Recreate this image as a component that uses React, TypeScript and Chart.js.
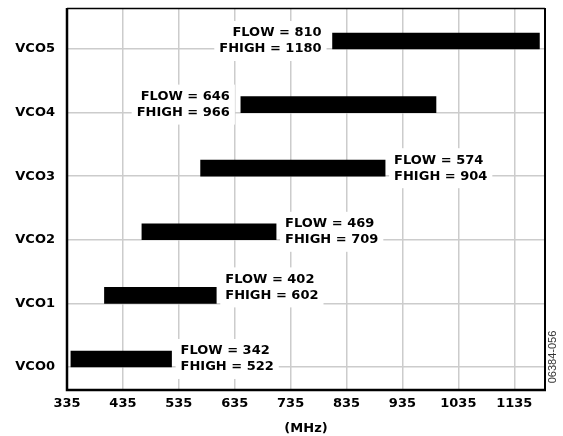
import React, { useEffect, useRef } from "react";
import { Chart, registerables } from "chart.js";

Chart.register(...registerables);

const categories = ["VCO0", "VCO1", "VCO2", "VCO3", "VCO4", "VCO5"];
// values printed in the labels
const flow = [342, 402, 469, 574, 646, 810];
const fhigh = [522, 602, 709, 904, 966, 1180];
// extents of the drawn bars as they appear in the figure
const barLow = [342, 402, 469, 574, 646, 810];
const barHigh = [522, 602, 709, 904, 995, 1180];
const xTicks = [335, 435, 535, 635, 735, 835, 935, 1035, 1135];
const labelSide = ["right", "right", "right", "right", "left", "left"];
const xTitle = "(MHz)";
const figureId = "06384-056";

const BAR_LIFT = 0.126; // bar sits just above its grid line
const LABEL_FONT = "bold 13px 'DejaVu Sans'";

const labelPlugin = {
  id: "rangeLabels",
  afterDatasetsDraw(chart: any) {
    const { ctx, scales } = chart;
    const xs = scales.x;
    const ys = scales.y;
    ctx.save();
    ctx.font = LABEL_FONT;
    ctx.textBaseline = "middle";
    categories.forEach((_, i) => {
      const lines = [`FLOW = ${flow[i]}`, `FHIGH = ${fhigh[i]}`];
      const extraLift = i === 1 ? 8 : 0;
      const g = ys.getPixelForValue(i) - extraLift;
      const y1 = g - 16;
      const y2 = g;
      const w = Math.max(...lines.map((l) => ctx.measureText(l).width));
      let xAnchor: number;
      let left: number;
      if (labelSide[i] === "right") {
        xAnchor = xs.getPixelForValue(barHigh[i]) + 9;
        left = xAnchor;
        ctx.textAlign = "left";
      } else {
        xAnchor = xs.getPixelForValue(barLow[i]) - 11;
        left = xAnchor - w;
        ctx.textAlign = "right";
      }
      ctx.fillStyle = "#ffffff";
      ctx.fillRect(left - 5, y1 - 12, w + 10, 16 + 24);
      ctx.fillStyle = "#000000";
      ctx.fillText(lines[0], xAnchor, y1);
      ctx.fillText(lines[1], xAnchor, y2);
    });
    ctx.restore();
  },
  afterDraw(chart: any) {
    const { ctx, chartArea } = chart;
    const { left, right, top, bottom } = chartArea;
    ctx.save();
    ctx.strokeStyle = "#000000";
    ctx.lineWidth = 1.5;
    ctx.beginPath();
    ctx.moveTo(left, top + 0.5);
    ctx.lineTo(right, top + 0.5);
    ctx.stroke();
    ctx.lineWidth = 2;
    ctx.beginPath();
    ctx.moveTo(right, top);
    ctx.lineTo(right, bottom);
    ctx.stroke();
    ctx.lineWidth = 2.5;
    ctx.beginPath();
    ctx.moveTo(left, top);
    ctx.lineTo(left, bottom);
    ctx.lineTo(right + 1, bottom);
    ctx.stroke();
    // figure id
    ctx.translate(553, 357);
    ctx.rotate(-Math.PI / 2);
    ctx.font = "11px 'Liberation Sans'";
    ctx.fillStyle = "#333333";
    ctx.textAlign = "center";
    ctx.textBaseline = "middle";
    ctx.fillText(figureId, 0, 0);
    ctx.restore();
  },
};

export default function App() {
  const canvasRef = useRef<HTMLCanvasElement | null>(null);

  useEffect(() => {
    const canvas = canvasRef.current;
    if (!canvas) return;
    const chart = new Chart(canvas, {
      type: "bar",
      data: {
        datasets: [
          {
            data: categories.map((_, i) => ({ x: [barLow[i], barHigh[i]], y: i + BAR_LIFT })) as any,
            backgroundColor: "#000000",
            borderWidth: 0,
            barThickness: 16,
          },
        ],
      },
      options: {
        indexAxis: "y",
        responsive: false,
        animation: false,
        devicePixelRatio: 1,
        layout: { padding: { left: 0, right: 18, top: 8, bottom: 0 } },
        plugins: {
          legend: { display: false },
          tooltip: { enabled: false },
        },
        scales: {
          x: {
            type: "linear",
            min: 335,
            max: 1190,
            afterBuildTicks: (scale: any) => {
              scale.ticks = xTicks.map((v) => ({ value: v }));
            },
            afterFit: (scale: any) => {
              scale.height = 46;
              scale.paddingLeft = 0;
              scale.paddingRight = 0;
            },
            grid: { color: "#cccccc", lineWidth: 1.5, drawTicks: false },
            border: { display: false },
            ticks: {
              padding: 6,
              color: "#000000",
              font: { family: "'DejaVu Sans'", size: 13, weight: "bold" },
              maxRotation: 0,
              autoSkip: false,
              callback: (v: any) => String(v),
            },
            title: {
              display: true,
              text: xTitle,
              color: "#000000",
              font: { family: "'DejaVu Sans'", size: 13, weight: "bold" },
              padding: { top: 0, bottom: 0 },
            },
          },
          y: {
            type: "linear",
            min: -0.362,
            max: 5.645,
            offset: false,
            afterBuildTicks: (scale: any) => {
              scale.ticks = categories.map((_, i) => ({ value: i }));
            },
            afterFit: (scale: any) => {
              scale.width = 67;
              scale.paddingTop = 0;
              scale.paddingBottom = 0;
            },
            grid: { color: "#cccccc", lineWidth: 1.5, drawTicks: false, offset: false },
            border: { display: false },
            ticks: {
              padding: 12,
              color: "#000000",
              font: { family: "'DejaVu Sans'", size: 13, weight: "bold" },
              autoSkip: false,
              callback: (v: any) => categories[Math.round(Number(v))] ?? "",
            },
          },
        },
      } as any,
      plugins: [labelPlugin],
    });
    return () => chart.destroy();
  }, []);

  return (
    <div style={{ position: "absolute", left: 0, top: 0, width: 563, height: 436, background: "#fff" }}>
      <canvas ref={canvasRef} width={563} height={436} style={{ display: "block" }} />
    </div>
  );
}
